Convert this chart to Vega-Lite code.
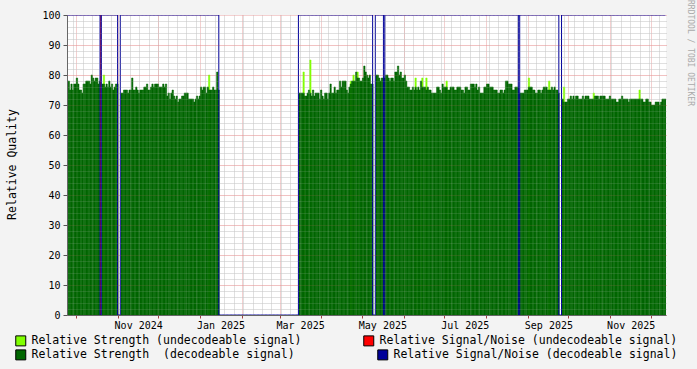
{
"$schema": "https://vega.github.io/schema/vega-lite/v6.json",
"width": 599, "height": 300,
"autosize": "none",
"padding": {"left": 67, "top": 15, "right": 31, "bottom": 54},
"background": "#f3f3f3",
"config": {"font": "DejaVu Sans Mono", "view": {"fill": "white", "stroke": null}},
"title": {"text": "RRDTOOL / TOBI OETIKER", "orient": "right", "anchor": "start", "fontSize": 8, "fontWeight": "normal", "color": "#aaaaaa", "offset": 8, "dx": -10},
"datasets": {
"q": [
{"d":"2024-09-24","s":78,"n":100},{"d":"2024-09-25","s":78,"n":100},{"d":"2024-09-26","s":75,"n":100},{"d":"2024-09-27","s":77,"n":100},{"d":"2024-09-28","s":75,"n":100},{"d":"2024-09-29","s":77,"n":100},{"d":"2024-09-30","s":77,"n":100},
{"d":"2024-10-01","s":79,"n":100},{"d":"2024-10-02","s":77,"n":100},{"d":"2024-10-03","s":75,"n":100},{"d":"2024-10-04","s":75,"n":100},{"d":"2024-10-05","s":74,"n":100},{"d":"2024-10-06","s":77,"n":100},{"d":"2024-10-07","s":77,"n":100},{"d":"2024-10-08","s":78,"n":100},{"d":"2024-10-09","s":78,"n":100},{"d":"2024-10-10","s":78,"n":100},{"d":"2024-10-11","s":77,"n":100},{"d":"2024-10-12","s":80,"n":100},{"d":"2024-10-13","s":79,"n":100},{"d":"2024-10-14","s":78,"n":100},{"d":"2024-10-15","s":79,"n":100},{"d":"2024-10-16","s":79,"n":100},{"d":"2024-10-17","s":77,"n":100},{"d":"2024-10-18","s":78,"n":100},{"d":"2024-10-19","s":77,"n":0},{"d":"2024-10-20","s":77,"n":100},{"d":"2024-10-21","s":77,"u":80,"n":100},{"d":"2024-10-22","s":76,"n":100},{"d":"2024-10-23","s":77,"n":100},{"d":"2024-10-24","s":76,"n":100},{"d":"2024-10-25","s":78,"n":100},{"d":"2024-10-26","s":76,"n":100},{"d":"2024-10-27","s":77,"n":100},{"d":"2024-10-28","s":75,"n":100},{"d":"2024-10-29","s":76,"n":100},{"d":"2024-10-30","s":77,"n":100},{"d":"2024-10-31","s":77,"n":100},
{"d":"2024-11-01","n":0},{"d":"2024-11-02","n":0},
{"d":"2024-11-03","s":74,"n":100},{"d":"2024-11-04","s":74,"n":100},{"d":"2024-11-05","s":75,"n":100},{"d":"2024-11-06","s":75,"n":100},{"d":"2024-11-07","s":75,"n":100},{"d":"2024-11-08","s":74,"n":100},{"d":"2024-11-09","s":75,"n":100},{"d":"2024-11-10","s":75,"n":100},{"d":"2024-11-11","s":79,"n":100},{"d":"2024-11-12","s":75,"n":100},{"d":"2024-11-13","s":75,"n":100},{"d":"2024-11-14","s":76,"n":100},{"d":"2024-11-15","s":75,"n":100},{"d":"2024-11-16","s":74,"n":100},{"d":"2024-11-17","s":75,"n":100},{"d":"2024-11-18","s":75,"n":100},{"d":"2024-11-19","s":75,"n":100},{"d":"2024-11-20","s":76,"n":100},{"d":"2024-11-21","s":76,"n":100},{"d":"2024-11-22","s":77,"n":100},{"d":"2024-11-23","s":75,"n":100},{"d":"2024-11-24","s":75,"n":100},{"d":"2024-11-25","s":76,"n":100},{"d":"2024-11-26","s":77,"n":100},{"d":"2024-11-27","s":76,"n":100},{"d":"2024-11-28","s":77,"n":100},{"d":"2024-11-29","s":77,"n":100},{"d":"2024-11-30","s":77,"n":100},
{"d":"2024-12-01","s":76,"n":100},{"d":"2024-12-02","s":76,"n":100},{"d":"2024-12-03","s":76,"n":100},{"d":"2024-12-04","s":77,"n":100},{"d":"2024-12-05","s":76,"n":100},{"d":"2024-12-06","s":77,"n":100},{"d":"2024-12-07","s":73,"n":100},{"d":"2024-12-08","s":74,"n":100},{"d":"2024-12-09","s":72,"n":100},{"d":"2024-12-10","s":74,"n":100},{"d":"2024-12-11","s":75,"n":100},{"d":"2024-12-12","s":73,"n":100},{"d":"2024-12-13","s":72,"n":100},{"d":"2024-12-14","s":73,"n":100},{"d":"2024-12-15","s":71,"n":100},{"d":"2024-12-16","s":72,"n":100},{"d":"2024-12-17","s":72,"n":100},{"d":"2024-12-18","s":73,"n":100},{"d":"2024-12-19","s":73,"n":100},{"d":"2024-12-20","s":74,"n":100},{"d":"2024-12-21","s":74,"n":100},{"d":"2024-12-22","s":74,"n":100},{"d":"2024-12-23","s":72,"n":100},{"d":"2024-12-24","s":72,"n":100},{"d":"2024-12-25","s":72,"n":100},{"d":"2024-12-26","s":72,"n":100},{"d":"2024-12-27","s":71,"n":100},{"d":"2024-12-28","s":72,"n":100},{"d":"2024-12-29","s":73,"n":100},{"d":"2024-12-30","s":72,"n":100},{"d":"2024-12-31","s":73,"n":100},
{"d":"2025-01-01","s":76,"n":100},{"d":"2025-01-02","s":75,"n":100},{"d":"2025-01-03","s":76,"n":100},{"d":"2025-01-04","s":76,"n":100},{"d":"2025-01-05","s":74,"n":100},{"d":"2025-01-06","s":76,"n":100},{"d":"2025-01-07","s":75,"u":80,"n":100},{"d":"2025-01-08","s":75,"n":100},{"d":"2025-01-09","s":75,"n":100},{"d":"2025-01-10","s":76,"n":100},{"d":"2025-01-11","s":75,"n":100},{"d":"2025-01-12","s":75,"n":100},{"d":"2025-01-13","s":81,"n":100},{"d":"2025-01-14","s":75,"n":100},
{"d":"2025-01-15","n":0},{"d":"2025-01-16","n":0},{"d":"2025-01-17","n":0},{"d":"2025-01-18","n":0},{"d":"2025-01-19","n":0},{"d":"2025-01-20","n":0},{"d":"2025-01-21","n":0},{"d":"2025-01-22","n":0},{"d":"2025-01-23","n":0},{"d":"2025-01-24","n":0},{"d":"2025-01-25","n":0},{"d":"2025-01-26","n":0},{"d":"2025-01-27","n":0},{"d":"2025-01-28","n":0},{"d":"2025-01-29","n":0},{"d":"2025-01-30","n":0},{"d":"2025-01-31","n":0},
{"d":"2025-02-01","n":0},{"d":"2025-02-02","n":0},{"d":"2025-02-03","n":0},{"d":"2025-02-04","n":0},{"d":"2025-02-05","n":0},{"d":"2025-02-06","n":0},{"d":"2025-02-07","n":0},{"d":"2025-02-08","n":0},{"d":"2025-02-09","n":0},{"d":"2025-02-10","n":0},{"d":"2025-02-11","n":0},{"d":"2025-02-12","n":0},{"d":"2025-02-13","n":0},{"d":"2025-02-14","n":0},{"d":"2025-02-15","n":0},{"d":"2025-02-16","n":0},{"d":"2025-02-17","n":0},{"d":"2025-02-18","n":0},{"d":"2025-02-19","n":0},{"d":"2025-02-20","n":0},{"d":"2025-02-21","n":0},{"d":"2025-02-22","n":0},{"d":"2025-02-23","n":0},{"d":"2025-02-24","n":0},{"d":"2025-02-25","n":0},{"d":"2025-02-26","n":0},{"d":"2025-02-27","n":0},{"d":"2025-02-28","n":0},
{"d":"2025-03-01","n":0},{"d":"2025-03-02","n":0},{"d":"2025-03-03","n":0},{"d":"2025-03-04","n":0},{"d":"2025-03-05","n":0},{"d":"2025-03-06","n":0},{"d":"2025-03-07","n":0},{"d":"2025-03-08","n":0},{"d":"2025-03-09","n":0},{"d":"2025-03-10","n":0},{"d":"2025-03-11","n":0},{"d":"2025-03-12","n":0},{"d":"2025-03-13","n":0},{"d":"2025-03-14","n":0},
{"d":"2025-03-15","s":74,"n":100},{"d":"2025-03-16","s":74,"n":100},{"d":"2025-03-17","s":74,"n":100},{"d":"2025-03-18","s":74,"u":81,"n":100},{"d":"2025-03-19","s":73,"n":100},{"d":"2025-03-20","s":73,"n":100},{"d":"2025-03-21","s":74,"n":100},{"d":"2025-03-22","s":75,"n":100},{"d":"2025-03-23","s":74,"u":85,"n":100},{"d":"2025-03-24","s":73,"n":100},{"d":"2025-03-25","s":75,"n":100},{"d":"2025-03-26","s":73,"n":100},{"d":"2025-03-27","s":74,"n":100},{"d":"2025-03-28","s":74,"n":100},{"d":"2025-03-29","s":74,"n":100},{"d":"2025-03-30","s":72,"n":100},{"d":"2025-03-31","s":75,"n":100},
{"d":"2025-04-01","s":73,"n":100},{"d":"2025-04-02","s":72,"n":100},{"d":"2025-04-03","s":74,"n":100},{"d":"2025-04-04","s":74,"n":100},{"d":"2025-04-05","s":72,"n":100},{"d":"2025-04-06","s":74,"n":100},{"d":"2025-04-07","s":77,"n":100},{"d":"2025-04-08","s":74,"n":100},{"d":"2025-04-09","s":74,"n":100},{"d":"2025-04-10","s":76,"n":100},{"d":"2025-04-11","s":74,"n":100},{"d":"2025-04-12","s":75,"n":100},{"d":"2025-04-13","s":75,"n":100},{"d":"2025-04-14","s":78,"n":100},{"d":"2025-04-15","s":76,"n":100},{"d":"2025-04-16","s":78,"n":100},{"d":"2025-04-17","s":78,"n":100},{"d":"2025-04-18","s":78,"n":100},{"d":"2025-04-19","s":75,"n":100},{"d":"2025-04-20","s":74,"n":100},{"d":"2025-04-21","s":76,"n":100},{"d":"2025-04-22","s":77,"u":78,"n":100},{"d":"2025-04-23","s":78,"n":100},{"d":"2025-04-24","s":78,"u":80,"n":100},{"d":"2025-04-25","s":78,"n":100},{"d":"2025-04-26","s":81,"n":100},{"d":"2025-04-27","s":79,"u":81,"n":100},{"d":"2025-04-28","s":79,"n":100},{"d":"2025-04-29","s":78,"n":100},{"d":"2025-04-30","s":78,"n":100},
{"d":"2025-05-01","s":79,"n":100},{"d":"2025-05-02","s":83,"n":100},{"d":"2025-05-03","s":81,"n":100},{"d":"2025-05-04","s":80,"n":100},{"d":"2025-05-05","s":79,"n":100},{"d":"2025-05-06","s":80,"n":100},{"d":"2025-05-07","s":77,"n":100},{"d":"2025-05-08","s":77,"n":100},
{"d":"2025-05-09","n":0},{"d":"2025-05-10","n":0},
{"d":"2025-05-11","s":80,"n":100},{"d":"2025-05-12","s":80,"n":100},{"d":"2025-05-13","s":79,"n":100},{"d":"2025-05-14","s":78,"n":100},{"d":"2025-05-15","s":79,"n":100},{"d":"2025-05-16","s":79,"n":100},{"d":"2025-05-17","s":79,"n":0},{"d":"2025-05-18","s":80,"n":100},{"d":"2025-05-19","s":80,"n":100},{"d":"2025-05-20","s":79,"n":100},{"d":"2025-05-21","s":78,"n":100},{"d":"2025-05-22","s":79,"n":100},{"d":"2025-05-23","s":79,"n":100},{"d":"2025-05-24","s":78,"n":100},{"d":"2025-05-25","s":81,"n":100},{"d":"2025-05-26","s":81,"n":100},{"d":"2025-05-27","s":83,"n":100},{"d":"2025-05-28","s":80,"n":100},{"d":"2025-05-29","s":81,"n":100},{"d":"2025-05-30","s":79,"n":100},{"d":"2025-05-31","s":79,"n":100},
{"d":"2025-06-01","s":80,"n":100},{"d":"2025-06-02","s":78,"n":100},{"d":"2025-06-03","s":76,"n":100},{"d":"2025-06-04","s":76,"n":100},{"d":"2025-06-05","s":75,"n":100},{"d":"2025-06-06","s":75,"n":100},{"d":"2025-06-07","s":76,"n":100},{"d":"2025-06-08","s":75,"n":100},{"d":"2025-06-09","s":76,"u":79,"n":100},{"d":"2025-06-10","s":75,"n":100},{"d":"2025-06-11","s":76,"n":100},{"d":"2025-06-12","s":75,"n":100},{"d":"2025-06-13","s":78,"n":100},{"d":"2025-06-14","s":76,"u":79,"n":100},{"d":"2025-06-15","s":76,"n":100},{"d":"2025-06-16","s":76,"n":100},{"d":"2025-06-17","s":75,"u":79,"n":100},{"d":"2025-06-18","s":76,"n":100},{"d":"2025-06-19","s":75,"n":100},{"d":"2025-06-20","s":75,"n":100},{"d":"2025-06-21","s":74,"n":100},{"d":"2025-06-22","s":74,"n":100},{"d":"2025-06-23","s":74,"n":100},{"d":"2025-06-24","s":74,"n":100},{"d":"2025-06-25","s":76,"n":100},{"d":"2025-06-26","s":76,"n":100},{"d":"2025-06-27","s":75,"n":100},{"d":"2025-06-28","s":74,"n":100},{"d":"2025-06-29","s":77,"n":100},{"d":"2025-06-30","s":76,"n":100},
{"d":"2025-07-01","s":76,"n":100},{"d":"2025-07-02","s":76,"u":78,"n":100},{"d":"2025-07-03","s":75,"n":100},{"d":"2025-07-04","s":75,"n":100},{"d":"2025-07-05","s":76,"n":100},{"d":"2025-07-06","s":76,"n":100},{"d":"2025-07-07","s":76,"n":100},{"d":"2025-07-08","s":75,"n":100},{"d":"2025-07-09","s":75,"n":100},{"d":"2025-07-10","s":76,"n":100},{"d":"2025-07-11","s":76,"n":100},{"d":"2025-07-12","s":76,"n":100},{"d":"2025-07-13","s":75,"n":100},{"d":"2025-07-14","s":75,"n":100},{"d":"2025-07-15","s":74,"n":100},{"d":"2025-07-16","s":76,"n":100},{"d":"2025-07-17","s":76,"n":100},{"d":"2025-07-18","s":75,"n":100},{"d":"2025-07-19","s":75,"n":100},{"d":"2025-07-20","s":77,"n":100},{"d":"2025-07-21","s":77,"n":100},{"d":"2025-07-22","s":77,"n":100},{"d":"2025-07-23","s":76,"n":100},{"d":"2025-07-24","s":77,"n":100},{"d":"2025-07-25","s":75,"n":100},{"d":"2025-07-26","s":76,"n":100},{"d":"2025-07-27","s":74,"n":100},{"d":"2025-07-28","s":74,"n":100},{"d":"2025-07-29","s":74,"n":100},{"d":"2025-07-30","s":76,"n":100},{"d":"2025-07-31","s":76,"n":100},
{"d":"2025-08-01","s":77,"n":100},{"d":"2025-08-02","s":77,"n":100},{"d":"2025-08-03","s":76,"n":100},{"d":"2025-08-04","s":76,"n":100},{"d":"2025-08-05","s":76,"n":100},{"d":"2025-08-06","s":75,"n":100},{"d":"2025-08-07","s":75,"n":100},{"d":"2025-08-08","s":75,"n":100},{"d":"2025-08-09","s":74,"n":100},{"d":"2025-08-10","s":74,"n":100},{"d":"2025-08-11","s":75,"n":100},{"d":"2025-08-12","s":75,"n":100},{"d":"2025-08-13","s":74,"n":100},{"d":"2025-08-14","s":75,"n":100},{"d":"2025-08-15","s":78,"n":100},{"d":"2025-08-16","s":78,"n":100},{"d":"2025-08-17","s":77,"n":100},{"d":"2025-08-18","s":77,"n":100},{"d":"2025-08-19","s":77,"n":100},{"d":"2025-08-20","s":75,"n":100},{"d":"2025-08-21","s":75,"n":100},{"d":"2025-08-22","s":76,"n":100},{"d":"2025-08-23","s":76,"n":100},{"d":"2025-08-24","s":76,"n":100},{"d":"2025-08-25","s":74,"n":0},{"d":"2025-08-26","s":74,"n":100},{"d":"2025-08-27","s":74,"n":100},{"d":"2025-08-28","s":74,"n":100},{"d":"2025-08-29","s":75,"n":100},{"d":"2025-08-30","s":75,"n":100},{"d":"2025-08-31","s":75,"n":100},
{"d":"2025-09-01","s":76,"u":79,"n":100},{"d":"2025-09-02","s":76,"n":100},{"d":"2025-09-03","s":76,"n":100},{"d":"2025-09-04","s":75,"n":100},{"d":"2025-09-05","s":75,"n":100},{"d":"2025-09-06","s":74,"n":100},{"d":"2025-09-07","s":74,"n":100},{"d":"2025-09-08","s":75,"n":100},{"d":"2025-09-09","s":75,"n":100},{"d":"2025-09-10","s":74,"n":100},{"d":"2025-09-11","s":75,"n":100},{"d":"2025-09-12","s":76,"n":100},{"d":"2025-09-13","s":76,"n":100},{"d":"2025-09-14","s":76,"n":100},{"d":"2025-09-15","s":75,"n":100},{"d":"2025-09-16","s":75,"u":78,"n":100},{"d":"2025-09-17","s":75,"n":100},{"d":"2025-09-18","s":76,"n":100},{"d":"2025-09-19","s":75,"n":100},{"d":"2025-09-20","s":76,"n":100},{"d":"2025-09-21","s":75,"n":100},{"d":"2025-09-22","s":75,"n":100},{"d":"2025-09-23","s":74,"n":100},
{"d":"2025-09-24","n":0},{"d":"2025-09-25","n":0},
{"d":"2025-09-26","s":72,"n":100},{"d":"2025-09-27","s":71,"u":76,"n":100},{"d":"2025-09-28","s":71,"n":100},{"d":"2025-09-29","s":71,"n":100},{"d":"2025-09-30","s":72,"n":100},
{"d":"2025-10-01","s":72,"n":100},{"d":"2025-10-02","s":73,"n":100},{"d":"2025-10-03","s":72,"n":100},{"d":"2025-10-04","s":73,"n":100},{"d":"2025-10-05","s":72,"n":100},{"d":"2025-10-06","s":73,"n":100},{"d":"2025-10-07","s":73,"n":100},{"d":"2025-10-08","s":72,"n":100},{"d":"2025-10-09","s":72,"n":100},{"d":"2025-10-10","s":72,"n":100},{"d":"2025-10-11","s":73,"n":100},{"d":"2025-10-12","s":72,"n":100},{"d":"2025-10-13","s":73,"n":100},{"d":"2025-10-14","s":73,"n":100},{"d":"2025-10-15","s":73,"n":100},{"d":"2025-10-16","s":72,"n":100},{"d":"2025-10-17","s":72,"n":100},{"d":"2025-10-18","s":72,"n":100},{"d":"2025-10-19","s":72,"u":74,"n":100},{"d":"2025-10-20","s":73,"n":100},{"d":"2025-10-21","s":73,"n":100},{"d":"2025-10-22","s":73,"n":100},{"d":"2025-10-23","s":72,"n":100},{"d":"2025-10-24","s":73,"n":100},{"d":"2025-10-25","s":73,"n":100},{"d":"2025-10-26","s":73,"n":100},{"d":"2025-10-27","s":73,"n":100},{"d":"2025-10-28","s":72,"n":100},{"d":"2025-10-29","s":72,"n":100},{"d":"2025-10-30","s":72,"n":100},{"d":"2025-10-31","s":73,"n":100},
{"d":"2025-11-01","s":72,"n":100},{"d":"2025-11-02","s":72,"n":100},{"d":"2025-11-03","s":72,"n":100},{"d":"2025-11-04","s":72,"n":100},{"d":"2025-11-05","s":71,"n":100},{"d":"2025-11-06","s":71,"n":100},{"d":"2025-11-07","s":72,"n":100},{"d":"2025-11-08","s":72,"n":100},{"d":"2025-11-09","s":73,"n":100},{"d":"2025-11-10","s":72,"n":100},{"d":"2025-11-11","s":72,"n":100},{"d":"2025-11-12","s":72,"n":100},{"d":"2025-11-13","s":72,"n":100},{"d":"2025-11-14","s":71,"n":100},{"d":"2025-11-15","s":72,"n":100},{"d":"2025-11-16","s":72,"n":100},{"d":"2025-11-17","s":72,"n":100},{"d":"2025-11-18","s":72,"n":100},{"d":"2025-11-19","s":72,"n":100},{"d":"2025-11-20","s":72,"n":100},{"d":"2025-11-21","s":72,"n":100},{"d":"2025-11-22","s":72,"u":75,"n":100},{"d":"2025-11-23","s":72,"n":100},{"d":"2025-11-24","s":72,"n":100},{"d":"2025-11-25","s":71,"n":100},{"d":"2025-11-26","s":71,"n":100},{"d":"2025-11-27","s":72,"n":100},{"d":"2025-11-28","s":72,"n":100},{"d":"2025-11-29","s":71,"n":100},{"d":"2025-11-30","s":71,"n":100},
{"d":"2025-12-01","s":70,"n":100},{"d":"2025-12-02","s":70,"n":100},{"d":"2025-12-03","s":70,"n":100},{"d":"2025-12-04","s":71,"n":100},{"d":"2025-12-05","s":71,"n":100},{"d":"2025-12-06","s":71,"n":100},{"d":"2025-12-07","s":70,"n":100},{"d":"2025-12-08","s":71,"n":100},{"d":"2025-12-09","s":72,"n":100},{"d":"2025-12-10","s":72,"n":100},{"d":"2025-12-11","s":72,"n":100},
{"d":"2025-12-12","n":100}
],
"red": [{"d":"2024-10-19T12:00:00Z","lo":0,"r":100}]
},
"resolve": {"axis": {"x": "independent", "y": "independent"}},
"layer": [
{
"data": {"name": "q"},
"mark": {"type": "bar", "binSpacing": 0, "clip": true, "stroke": "#80ff00", "strokeWidth": 0.5},
"encoding": {
"x": {"field": "d", "type": "temporal", "timeUnit": "utcyearmonthdate",
 "scale": {"type": "utc", "domain": [{"year":2024,"month":9,"date":24,"hours":12,"utc":true},{"year":2025,"month":12,"date":12,"hours":10,"utc":true}]},
 "axis": {"orient": "bottom", "tickCount": {"interval": "week", "step": 1}, "grid": true, "gridColor": "#c4c4c4", "gridDash": [1, 1], "labels": false, "ticks": false, "domain": false, "title": null, "zindex": 0}},
"y": {"field": "u", "type": "quantitative", "scale": {"domain": [0, 100], "nice": false},
 "axis": {"orient": "left", "values": [2,4,6,8,12,14,16,18,22,24,26,28,32,34,36,38,42,44,46,48,52,54,56,58,62,64,66,68,72,74,76,78,82,84,86,88,92,94,96,98], "grid": true, "gridColor": "#c4c4c4", "gridDash": [1, 1], "labels": false, "ticks": false, "domain": false, "title": null, "zindex": 0}},
"color": {"datum": "Relative Strength (undecodeable signal)", "type": "nominal",
 "scale": {"domain": ["Relative Strength (undecodeable signal)", "Relative Signal/Noise (undecodeable signal)"], "range": ["#80ff00", "#ff0000"]},
 "legend": {"title": null, "orient": "none", "direction": "horizontal", "legendX": -52, "legendY": 320, "columns": 2, "columnPadding": 59, "padding": 0, "labelFontSize": 11.5, "labelColor": "#000000", "labelOffset": 5, "labelLimit": 0, "symbolType": "square", "symbolSize": 100, "symbolStrokeColor": "#000000", "symbolStrokeWidth": 1, "symbolOpacity": 1}}
}
},
{
"data": {"name": "q"},
"mark": {"type": "bar", "binSpacing": 0, "clip": true, "stroke": "#006600", "strokeWidth": 0.5},
"encoding": {
"x": {"field": "d", "type": "temporal", "timeUnit": "utcyearmonthdate",
 "scale": {"type": "utc", "domain": [{"year":2024,"month":9,"date":24,"hours":12,"utc":true},{"year":2025,"month":12,"date":12,"hours":10,"utc":true}]},
 "axis": {"orient": "bottom", "tickCount": {"interval": "month", "step": 1}, "grid": true, "gridColor": "#e8a0a0", "gridDash": [1, 1], "labels": false, "ticks": true, "tickSize": 3, "tickColor": "#a04040", "domain": false, "title": null, "zindex": 0}},
"y": {"field": "s", "type": "quantitative", "scale": {"domain": [0, 100], "nice": false},
 "axis": {"orient": "left", "values": [0,10,20,30,40,50,60,70,80,90,100], "grid": true, "gridColor": "#e8a0a0", "gridDash": [1, 1], "labelFontSize": 10, "labelColor": "#000000", "labelPadding": 3, "ticks": true, "tickSize": 4, "tickColor": "#555555", "domain": false, "title": "Relative Quality", "titleFontSize": 11.5, "titleFontWeight": "normal", "titleColor": "#000000", "titleX": -55, "titleY": 149, "titleAngle": -90, "titleAlign": "center", "titleBaseline": "middle", "zindex": 0}},
"fill": {"datum": "Relative Strength\u00a0 (decodeable signal)", "type": "nominal",
 "scale": {"domain": ["Relative Strength\u00a0 (decodeable signal)", "Relative Signal/Noise (decodeable signal)"], "range": ["#006600", "#000099"]},
 "legend": {"title": null, "orient": "none", "direction": "horizontal", "legendX": -52, "legendY": 334, "columns": 2, "columnPadding": 80, "padding": 0, "labelFontSize": 11.5, "labelColor": "#000000", "labelOffset": 5, "labelLimit": 0, "symbolType": "square", "symbolSize": 100, "symbolStrokeColor": "#000000", "symbolStrokeWidth": 1, "symbolOpacity": 1}}
}
},
{
"data": {"name": "red"},
"mark": {"type": "rule", "strokeWidth": 1, "color": "#ff0000"},
"encoding": {
"x": {"field": "d", "type": "temporal",
 "axis": {"orient": "bottom", "tickCount": {"interval": "week", "step": 1}, "grid": true, "gridColor": "#d0d0d0", "gridOpacity": 0.22, "gridDash": [1, 1], "labels": false, "ticks": false, "domain": false, "title": null, "zindex": 1}},
"y": {"field": "lo", "type": "quantitative",
 "axis": {"orient": "left", "values": [2,4,6,8,12,14,16,18,22,24,26,28,32,34,36,38,42,44,46,48,52,54,56,58,62,64,66,68,72,74,76,78,82,84,86,88,92,94,96,98], "grid": true, "gridColor": "#d0d0d0", "gridOpacity": 0.28, "gridDash": [1, 1], "labels": false, "ticks": false, "domain": false, "title": null, "zindex": 1}},
"y2": {"field": "r"}
}
},
{
"data": {"name": "q"},
"mark": {"type": "line", "interpolate": "step-after", "strokeWidth": 1, "clip": true, "color": "#000099"},
"encoding": {
"x": {"field": "d", "type": "temporal",
 "scale": {"type": "utc", "domain": [{"year":2024,"month":9,"date":24,"hours":12,"utc":true},{"year":2025,"month":12,"date":12,"hours":10,"utc":true}]},
 "axis": {"orient": "bottom", "values": [{"year":2024,"month":11,"date":16,"hours":6,"utc":true},{"year":2025,"month":1,"date":16,"hours":6,"utc":true},{"year":2025,"month":3,"date":16,"hours":6,"utc":true},{"year":2025,"month":5,"date":16,"hours":6,"utc":true},{"year":2025,"month":7,"date":16,"hours":6,"utc":true},{"year":2025,"month":9,"date":16,"hours":6,"utc":true},{"year":2025,"month":11,"date":16,"hours":6,"utc":true}],
  "format": "%b %Y", "grid": false, "ticks": false, "domain": true, "domainColor": "#666666", "labelPadding": 5, "labelFontSize": 10, "labelColor": "#000000", "labelFlush": false, "labelOverlap": false, "title": null, "zindex": 1}},
"y": {"field": "n", "type": "quantitative", "scale": {"domain": [0, 100], "nice": false},
 "axis": {"orient": "left", "values": [0,10,20,30,40,50,60,70,80,90], "grid": true, "gridColor": "#e07070", "gridOpacity": 0.3, "gridDash": [1, 1], "labels": false, "ticks": false, "domain": true, "domainColor": "#666666", "title": null, "zindex": 1}}
}
}
]
}
